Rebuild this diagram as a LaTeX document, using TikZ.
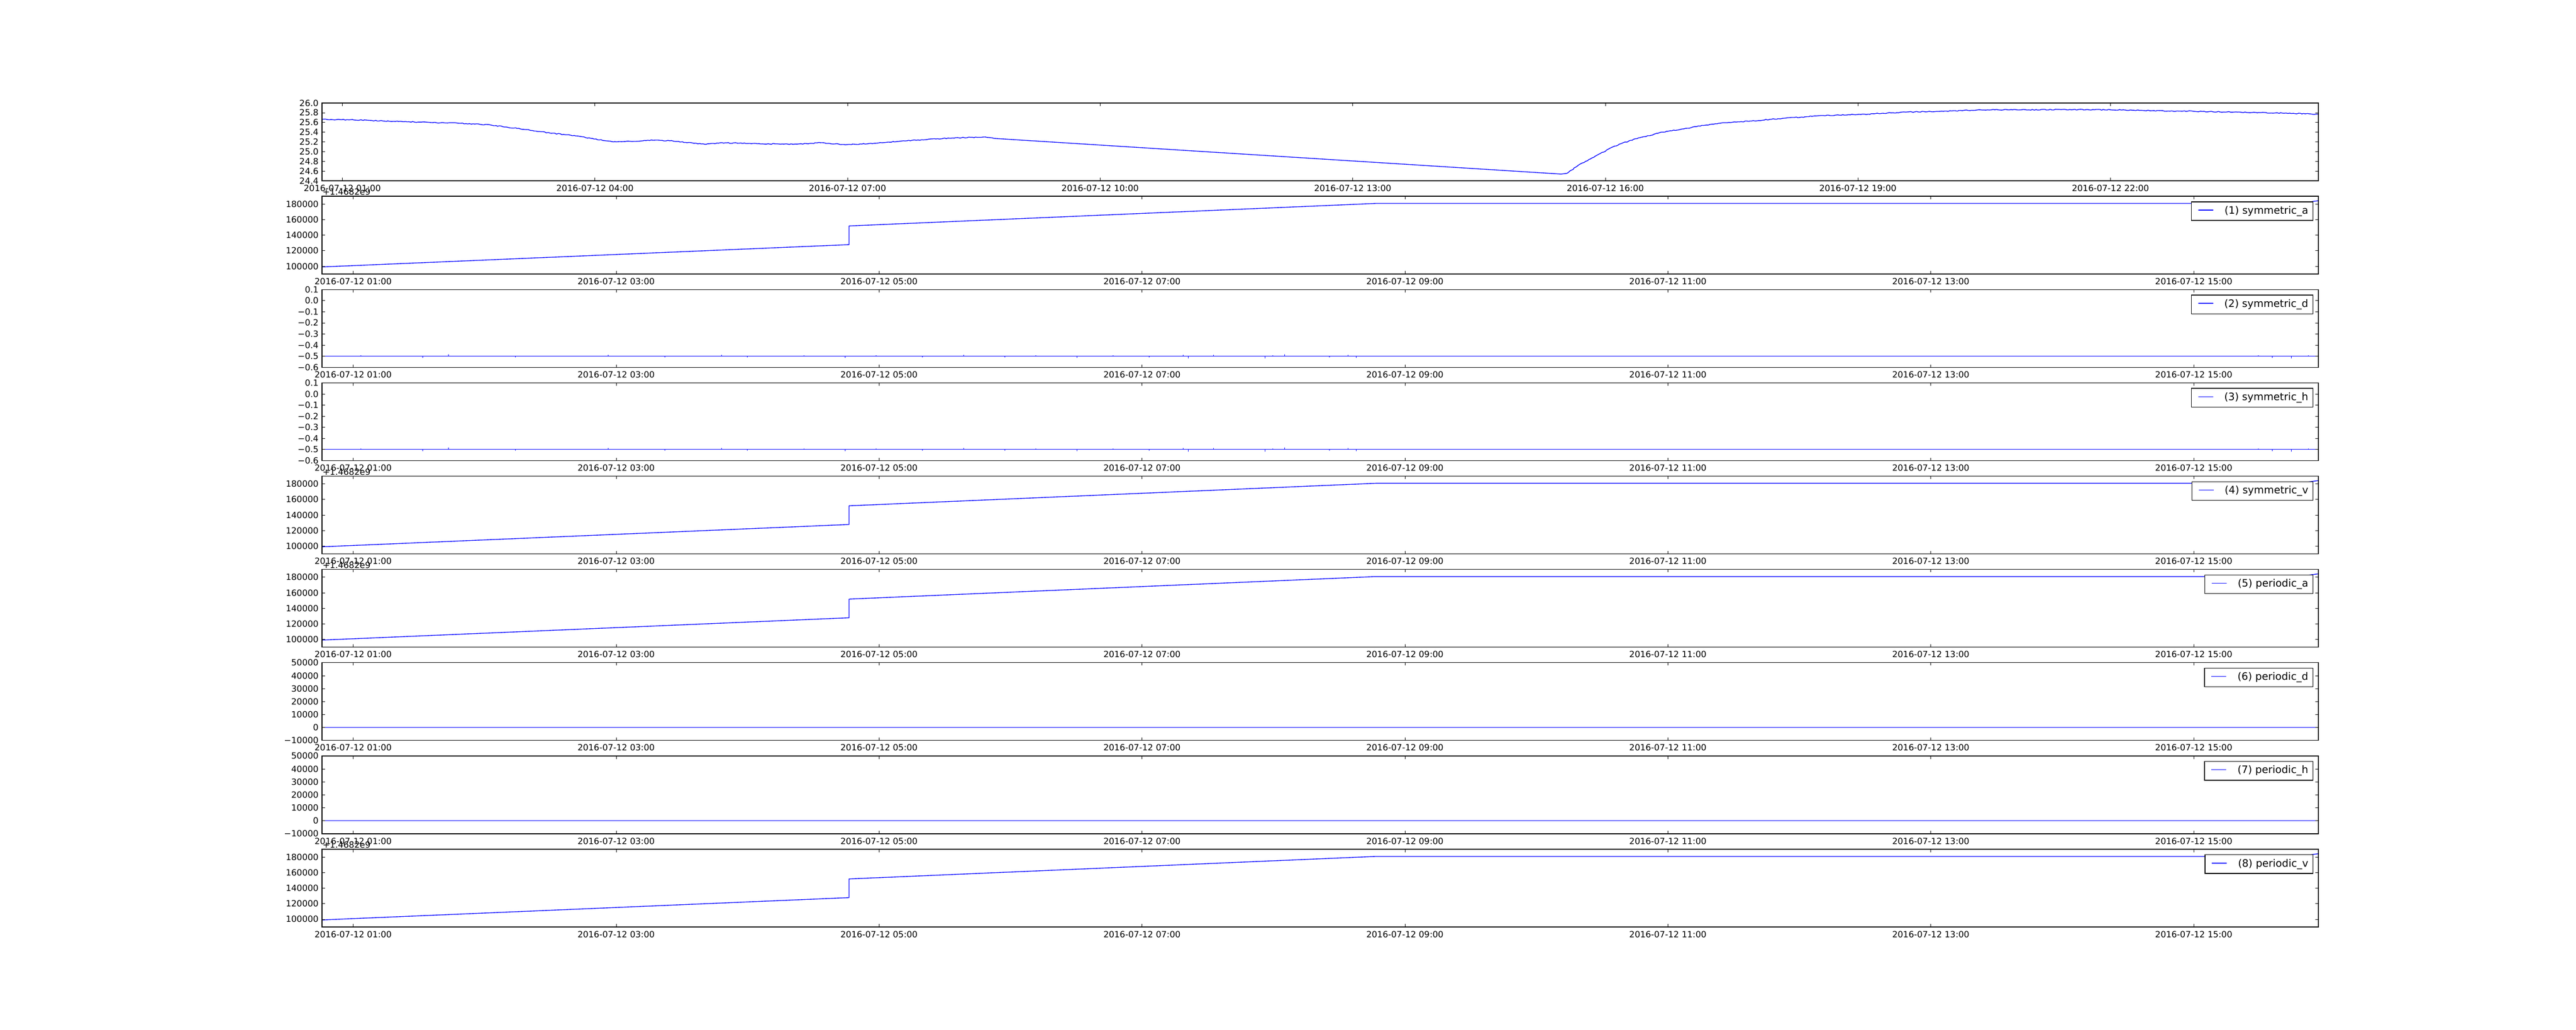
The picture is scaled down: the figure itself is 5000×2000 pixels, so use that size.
\documentclass[tikz,border=0pt]{standalone}
\usepackage{fontspec}
\setmainfont{DejaVu Sans}
\usetikzlibrary{calc,decorations.pathmorphing}
\newcommand{\ticksize}{\fontsize{12}{14}\selectfont}
\newcommand{\legsize}{\fontsize{14.4}{17}\selectfont}
\newlength{\px}\setlength{\px}{0.01in}
\tikzset{
	spine/.style={line width=1pt},
	tickmark/.style={line width=0.5pt},
	ticklab/.style={inner sep=0pt, font=\ticksize},
	dataline/.style={blue, line width=1pt, line join=round},
	noisy/.style={decorate, decoration={random steps, segment length=2.5pt, amplitude=0.6pt}},
	legbox/.style={draw, fill=white, line width=1pt, anchor=north east, inner xsep=9.3\px, inner ysep=0pt, minimum height=36.3\px, font=\legsize},
}
\begin{document}
\begin{tikzpicture}[x=0.01in, y=-0.01in]
		\useasboundingbox (0,0) rectangle (5000,2000);
		\pgfmathsetseed{3}

		% temperature (top panel)
		\draw[dataline, noisy] (625,231.7) -- (680,232.5) -- (722,234) -- (780,236) -- (837,238) -- (894,239.3) -- (952,242.7) -- (1009,250) -- (1040,254.5) -- (1067,258.3) -- (1101,261.7) -- (1130,265.5) -- (1153,270) -- (1193,275) -- (1230,274.5) -- (1268,272.3) -- (1300,273.3) -- (1330,276.5) -- (1367,280) -- (1407,277.3) -- (1470,279) -- (1541,280) -- (1595,277) -- (1620,279.5) -- (1645,280.7) -- (1702,278) -- (1740,275) -- (1782,271.7) -- (1849,268) -- (1909,266) -- (1929,268.7);
		\draw[dataline] (1929,268.7) -- (3030,338) -- (3041,336.7);
		\draw[dataline, noisy] (3041,336.7) -- (3068,318) -- (3094,305) -- (3121,290) -- (3148,278.3) -- (3188,266) -- (3228,256.7) -- (3269,250) -- (3309,243.3) -- (3349,238.3) -- (3400,235) -- (3459,230) -- (3539,224.3) -- (3619,221.7) -- (3699,217.7) -- (3778,215.7) -- (3858,213.3) -- (3938,213.3) -- (4017,212.7) -- (4097,213.3) -- (4177,215) -- (4257,216) -- (4336,217.7) -- (4416,219.3) -- (4500,221.7);

		\draw[spine] (625,200) rectangle (4500,350.94);
		\foreach \lab [count=\k from 0] in {01:00,04:00,07:00,10:00,13:00,16:00,19:00,22:00}{
			\pgfmathsetmacro\xt{664.5+490.27*\k}
			\draw[tickmark] (\xt,200) -- ++(0,5.6);
			\draw[tickmark] (\xt,350.94) -- ++(0,-5.6);
			\node[ticklab, anchor=base] (tx\k) at (\xt,371.1) {2016-07-12 \lab};
		}
		\foreach \lab [count=\k from 0] in {24.4,24.6,24.8,25.0,25.2,25.4,25.6,25.8,26.0}{
			\pgfmathsetmacro\yt{350.94-18.8675*\k}
			\draw[tickmark] (625,\yt) -- ++(5.6,0);
			\draw[tickmark] (4500,\yt) -- ++(-5.6,0);
			\node[ticklab, anchor=east] (ty\k) at (618.5,\yt) {\lab};
		}

		% time stamps: symmetric_a, symmetric_v, periodic_a, periodic_v
		\foreach \t in {381.13,924.53,1105.66,1649.06}{
			\draw[dataline] (625,\t+137.2) -- (1648,\t+93.9) -- (1648,\t+57.6) -- (2670,\t+13.9) -- (4460,\t+13.9) -- (4500,\t+8.6);
		}
		\foreach \t in {1105.66,1649.06}{
			\draw[dataline] (4500,\t+8.6) -- (4500,\t+74.3);
		}

		% symmetric_d, symmetric_h
		\foreach \t in {562.26,743.40}{
			\draw[dataline] (625,\t+129.4) -- (4500,\t+129.4) -- (4500,\t+21);
			\foreach \s/\a in {700/-2,820/3,870/-4,1000/2,1180/-3,1290/2,1400/-3,1450/2,1560/-2,1640/3,1700/-2,1790/2,1870/-3,1950/2,2010/-2,2090/3,2160/-2,2230/2,2296/-3,2306/4,2355/-3,2455/4,2470/-2,2493/-4,2580/2,2616/-3,2632/3,4383/-2,4410/3,4447/4,4480/-2}
				\draw[dataline, line width=0.5pt] (\s,\t+129.4) -- ++(0,\a);
		}

		% periodic_d, periodic_h
		\foreach \t in {1286.79,1467.92}{
			\draw[dataline] (625,\t+125.8) -- (4500,\t+125.8) -- (4500,\t+18.5);
		}

		% frames and time axis of the lower panels
		\foreach \t [count=\i] in {381.13,562.26,743.40,924.53,1105.66,1286.79,1467.92,1649.06}{
			\draw[spine] (625,\t) rectangle (4500,\t+150.94);
			\foreach \lab [count=\k from 0] in {01:00,03:00,05:00,07:00,09:00,11:00,13:00,15:00}{
				\pgfmathsetmacro\xt{685.5+510.36*\k}
				\draw[tickmark] (\xt,\t) -- ++(0,5.6);
				\draw[tickmark] (\xt,\t+150.94) -- ++(0,-5.6);
				\node[ticklab, anchor=base] (x\i-\k) at (\xt,\t+171.14) {2016-07-12 \lab};
			}
		}
		\foreach \t [count=\i] in {381.13,924.53,1105.66,1649.06}{
			\node[ticklab, anchor=base west] (off\i) at (626,\t-2.5) {+1.4682e9};
			\foreach \lab [count=\k from 0] in {100000,120000,140000,160000,180000}{
				\pgfmathsetmacro\yt{\t+135.85-30.188*\k}
				\draw[tickmark] (625,\yt) -- ++(5.6,0);
				\draw[tickmark] (4500,\yt) -- ++(-5.6,0);
				\node[ticklab, anchor=east] (ya\i-\k) at (618.5,\yt) {\lab};
			}
		}
		\foreach \t [count=\i] in {562.26,743.40}{
			\foreach \lab [count=\k from 0] in {−0.6,−0.5,−0.4,−0.3,−0.2,−0.1,0.0,0.1}{
				\pgfmathsetmacro\yt{\t+150.94-21.563*\k}
				\draw[tickmark] (625,\yt) -- ++(5.6,0);
				\draw[tickmark] (4500,\yt) -- ++(-5.6,0);
				\node[ticklab, anchor=east] (yd\i-\k) at (618.5,\yt) {\lab};
			}
		}
		\foreach \t [count=\i] in {1286.79,1467.92}{
			\foreach \lab [count=\k from 0] in {−10000,0,10000,20000,30000,40000,50000}{
				\pgfmathsetmacro\yt{\t+150.94-25.157*\k}
				\draw[tickmark] (625,\yt) -- ++(5.6,0);
				\draw[tickmark] (4500,\yt) -- ++(-5.6,0);
				\node[ticklab, anchor=east] (yp\i-\k) at (618.5,\yt) {\lab};
			}
		}

		% legends
		\foreach \t/\lab [count=\i] in {381.13/{(1) symmetric\_a},562.26/{(2) symmetric\_d},743.40/{(3) symmetric\_h},924.53/{(4) symmetric\_v},1105.66/{(5) periodic\_a},1286.79/{(6) periodic\_d},1467.92/{(7) periodic\_h},1649.06/{(8) periodic\_v}}{
			\node[legbox] (lg\i) at (4490.3,\t+10) {\hspace*{54.7\px}\lab};
			\draw[dataline] ($(lg\i.west)+(14,-2)$) -- ($(lg\i.west)+(43,-2)$);
		}
\end{tikzpicture}
\end{document}
